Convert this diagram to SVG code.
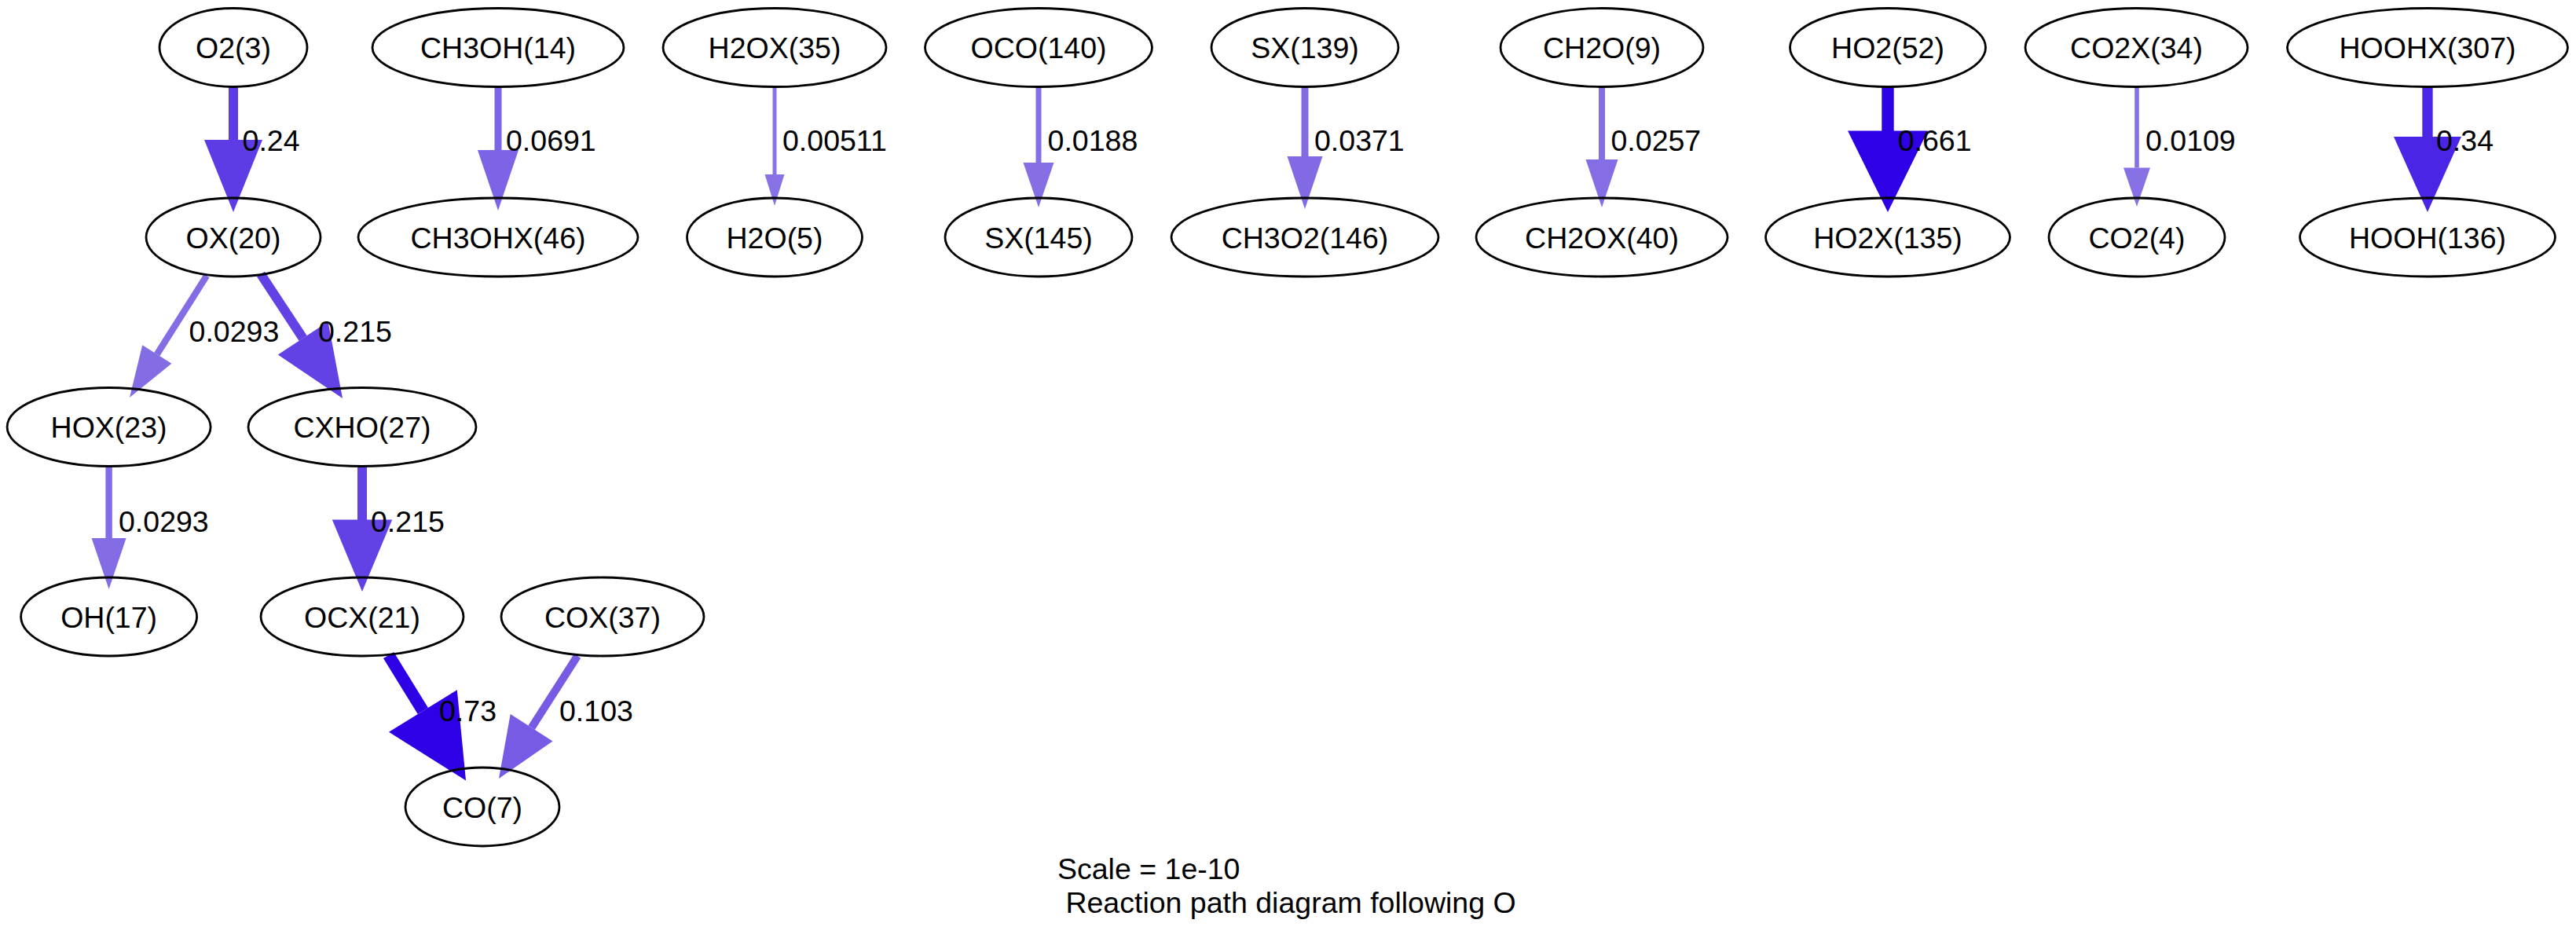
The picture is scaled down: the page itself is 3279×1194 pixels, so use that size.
<svg xmlns="http://www.w3.org/2000/svg" width="3279" height="1194" viewBox="0 0 3279 1194">
<style>
  .n ellipse { fill: none; stroke: #000; stroke-width: 2.8; }
  text { font-family: "Liberation Sans", Arial, Helvetica, sans-serif; font-size: 37.5px; fill: #000; }
  .n text { text-anchor: middle; }
  .e line { fill: none; stroke-linecap: butt; }
</style>
<rect x="0" y="0" width="3279" height="1194" fill="#fff"/>

<g id="edges" class="e">
  <!-- O2 -> OX -->
  <g id="e_O2_OX"><line x1="297" y1="110.5" x2="297" y2="178" stroke="#5e3ce5" stroke-width="12"/>
    <polygon points="260,178 334,178 297,270" fill="#5e3ce5"/>
    <text x="308.6" y="192">0.24</text></g>
  <!-- CH3OH -> CH3OHX -->
  <g id="e_CH3OH_CH3OHX"><line x1="634" y1="110.5" x2="634" y2="191" stroke="#7d63e5" stroke-width="9"/>
    <polygon points="608,191 660,191 634,268" fill="#7d63e5"/>
    <text x="644" y="192">0.0691</text></g>
  <!-- H2OX -> H2O -->
  <g id="e_H2OX_H2O"><line x1="986" y1="110.5" x2="986" y2="222" stroke="#8972e5" stroke-width="5"/>
    <polygon points="973.5,222 998.5,222 986,262" fill="#8972e5"/>
    <text x="996" y="192">0.00511</text></g>
  <!-- OCO -> SX145 -->
  <g id="e_OCO_SX145"><line x1="1322" y1="110.5" x2="1322" y2="207" stroke="#866ee5" stroke-width="7"/>
    <polygon points="1302.5,207 1341.5,207 1322,264" fill="#866ee5"/>
    <text x="1333.6" y="192">0.0188</text></g>
  <!-- SX139 -> CH3O2 -->
  <g id="e_SX139_CH3O2"><line x1="1661" y1="110.5" x2="1661" y2="199" stroke="#836ae5" stroke-width="9"/>
    <polygon points="1638.5,199 1683.5,199 1661,266" fill="#836ae5"/>
    <text x="1673" y="192">0.0371</text></g>
  <!-- CH2O -> CH2OX -->
  <g id="e_CH2O_CH2OX"><line x1="2039" y1="110.5" x2="2039" y2="203" stroke="#856de5" stroke-width="8"/>
    <polygon points="2018.5,203 2059.5,203 2039,264" fill="#856de5"/>
    <text x="2050.5" y="192">0.0257</text></g>
  <!-- HO2 -> HO2X -->
  <g id="e_HO2_HO2X"><line x1="2403" y1="110.5" x2="2403" y2="167" stroke="#2e00e5" stroke-width="15.4"/>
    <polygon points="2352,166.5 2454,166.5 2403,270" fill="#2e00e5"/>
    <text x="2415.7" y="192">0.661</text></g>
  <!-- CO2X -> CO2 -->
  <g id="e_CO2X_CO2"><line x1="2720" y1="110.5" x2="2720" y2="213.5" stroke="#8870e5" stroke-width="5.6"/>
    <polygon points="2703,213.5 2737,213.5 2720,263" fill="#8870e5"/>
    <text x="2731" y="192">0.0109</text></g>
  <!-- HOOHX -> HOOH -->
  <g id="e_HOOHX_HOOH"><line x1="3090" y1="110.5" x2="3090" y2="174" stroke="#4b25e5" stroke-width="13.3"/>
    <polygon points="3047,174 3133,174 3090,270" fill="#4b25e5"/>
    <text x="3101" y="192">0.34</text></g>
  <!-- OX -> HOX -->
  <g id="e_OX_HOX"><line x1="263" y1="351" x2="199.8" y2="451" stroke="#846ce5" stroke-width="8.4"/>
    <polygon points="218.4,462.8 181.2,439.2 165,506" fill="#846ce5"/>
    <text x="240.6" y="434.5">0.0293</text></g>
  <!-- OX -> CXHO -->
  <g id="e_OX_CXHO"><line x1="332" y1="349" x2="385.7" y2="430.6" stroke="#6241e5" stroke-width="12"/>
    <polygon points="417.6,409.6 353.8,451.6 436,507" fill="#6241e5"/>
    <text x="405" y="434.5">0.215</text></g>
  <!-- HOX -> OH -->
  <g id="e_HOX_OH"><line x1="138.6" y1="593.5" x2="138.6" y2="685" stroke="#846ce5" stroke-width="8.4"/>
    <polygon points="116.6,685 160.6,685 138.6,750" fill="#846ce5"/>
    <text x="151" y="676.5">0.0293</text></g>
  <!-- CXHO -> OCX -->
  <g id="e_CXHO_OCX"><line x1="461" y1="593.5" x2="461" y2="662" stroke="#6241e5" stroke-width="12"/>
    <polygon points="422.8,661.5 499.2,661.5 461,753" fill="#6241e5"/>
    <text x="472" y="676.5">0.215</text></g>
  <!-- OCX -> CO -->
  <g id="e_OCX_CO"><line x1="494.6" y1="834" x2="538.4" y2="905" stroke="#2e00e5" stroke-width="15.5"/>
    <polygon points="581.8,878.2 495,931.8 593,993.5" fill="#2e00e5"/>
    <text x="559" y="917.5">0.73</text></g>
  <!-- COX -> CO -->
  <g id="e_COX_CO"><line x1="735" y1="835" x2="676.6" y2="926.2" stroke="#775be5" stroke-width="10"/>
    <polygon points="703.5,943.5 649.7,908.9 635,991" fill="#775be5"/>
    <text x="712" y="917.5">0.103</text></g>
</g>

<g id="nodes">
  <g id="O2_3" class="n"><ellipse cx="297" cy="60.5" rx="94" ry="50"/><text x="297" y="74">O2(3)</text></g>
  <g id="CH3OH_14" class="n"><ellipse cx="634" cy="60.5" rx="160" ry="50"/><text x="634" y="74">CH3OH(14)</text></g>
  <g id="H2OX_35" class="n"><ellipse cx="986" cy="60.5" rx="142" ry="50"/><text x="986" y="74">H2OX(35)</text></g>
  <g id="OCO_140" class="n"><ellipse cx="1322" cy="60.5" rx="144.5" ry="50"/><text x="1322" y="74">OCO(140)</text></g>
  <g id="SX_139" class="n"><ellipse cx="1661" cy="60.5" rx="119" ry="50"/><text x="1661" y="74">SX(139)</text></g>
  <g id="CH2O_9" class="n"><ellipse cx="2039" cy="60.5" rx="129" ry="50"/><text x="2039" y="74">CH2O(9)</text></g>
  <g id="HO2_52" class="n"><ellipse cx="2403" cy="60.5" rx="124.5" ry="50"/><text x="2403" y="74">HO2(52)</text></g>
  <g id="CO2X_34" class="n"><ellipse cx="2719.5" cy="60.5" rx="141.5" ry="50"/><text x="2719.5" y="74">CO2X(34)</text></g>
  <g id="HOOHX_307" class="n"><ellipse cx="3090" cy="60.5" rx="178.5" ry="50"/><text x="3090" y="74">HOOHX(307)</text></g>

  <g id="OX_20" class="n"><ellipse cx="297" cy="302" rx="111" ry="50"/><text x="297" y="315.5">OX(20)</text></g>
  <g id="CH3OHX_46" class="n"><ellipse cx="634" cy="302" rx="178" ry="50"/><text x="634" y="315.5">CH3OHX(46)</text></g>
  <g id="H2O_5" class="n"><ellipse cx="986" cy="302" rx="111.5" ry="50"/><text x="986" y="315.5">H2O(5)</text></g>
  <g id="SX_145" class="n"><ellipse cx="1322" cy="302" rx="119" ry="50"/><text x="1322" y="315.5">SX(145)</text></g>
  <g id="CH3O2_146" class="n"><ellipse cx="1661" cy="302" rx="170" ry="50"/><text x="1661" y="315.5">CH3O2(146)</text></g>
  <g id="CH2OX_40" class="n"><ellipse cx="2039" cy="302" rx="160" ry="50"/><text x="2039" y="315.5">CH2OX(40)</text></g>
  <g id="HO2X_135" class="n"><ellipse cx="2403" cy="302" rx="155.5" ry="50"/><text x="2403" y="315.5">HO2X(135)</text></g>
  <g id="CO2_4" class="n"><ellipse cx="2720" cy="302" rx="112" ry="50"/><text x="2720" y="315.5">CO2(4)</text></g>
  <g id="HOOH_136" class="n"><ellipse cx="3090" cy="302" rx="162.5" ry="50"/><text x="3090" y="315.5">HOOH(136)</text></g>

  <g id="HOX_23" class="n"><ellipse cx="138.6" cy="543.5" rx="129.5" ry="50"/><text x="138.6" y="557">HOX(23)</text></g>
  <g id="CXHO_27" class="n"><ellipse cx="461" cy="543.5" rx="145" ry="50"/><text x="461" y="557">CXHO(27)</text></g>

  <g id="OH_17" class="n"><ellipse cx="138.6" cy="785" rx="112" ry="50"/><text x="138.6" y="798.5">OH(17)</text></g>
  <g id="OCX_21" class="n"><ellipse cx="461" cy="785" rx="129" ry="50"/><text x="461" y="798.5">OCX(21)</text></g>
  <g id="COX_37" class="n"><ellipse cx="767" cy="785" rx="129" ry="50"/><text x="767" y="798.5">COX(37)</text></g>

  <g id="CO_7" class="n"><ellipse cx="614" cy="1027" rx="98" ry="50"/><text x="614" y="1040.5">CO(7)</text></g>
</g>

<g id="caption">
  <text x="1346" y="1119">Scale = 1e-10</text>
  <text x="1346" y="1162" xml:space="preserve"> Reaction path diagram following O</text>
</g>
</svg>
